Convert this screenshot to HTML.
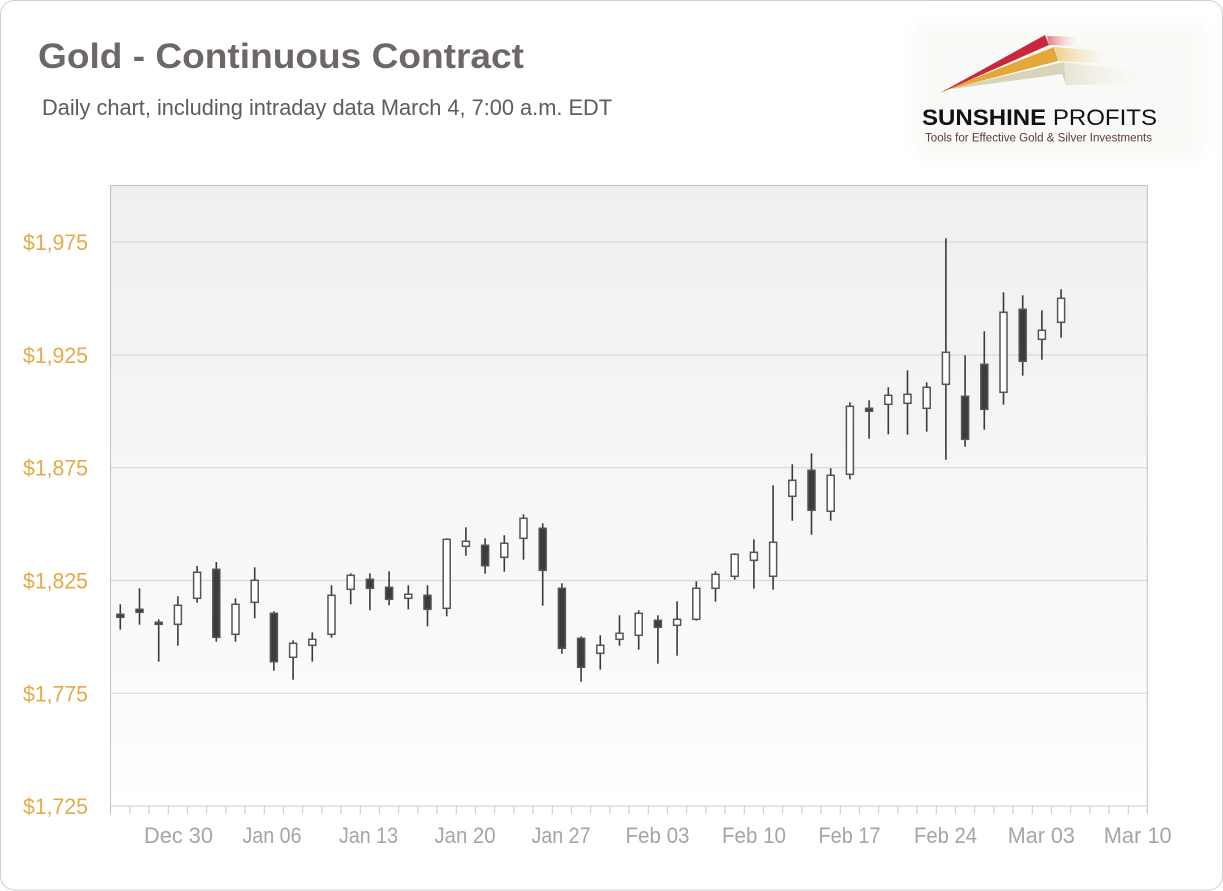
<!DOCTYPE html>
<html>
<head>
<meta charset="utf-8">
<style>
html,body{margin:0;padding:0;background:#fff;}
svg{display:block;}
text{font-family:"Liberation Sans",Arial,sans-serif;}
</style>
</head>
<body>
<svg width="1223" height="891" viewBox="0 0 1223 891" xmlns="http://www.w3.org/2000/svg">
<defs>
<linearGradient id="bg" x1="0" y1="0" x2="0" y2="1">
<stop offset="0" stop-color="#efefef"/>
<stop offset="0.88" stop-color="#fcfcfc"/>
<stop offset="1" stop-color="#ffffff"/>
</linearGradient>
<filter id="blur" x="-20%" y="-20%" width="140%" height="140%"><feGaussianBlur stdDeviation="8"/></filter>
<linearGradient id="redT" x1="0" y1="0" x2="1" y2="0"><stop offset="0" stop-color="#e07a80"/><stop offset="1" stop-color="#f4d6d6" stop-opacity="0"/></linearGradient>
<linearGradient id="goldT" x1="0" y1="0" x2="1" y2="0"><stop offset="0" stop-color="#f0cf8e"/><stop offset="1" stop-color="#f8eccf" stop-opacity="0"/></linearGradient>
<linearGradient id="beigeT" x1="0" y1="0" x2="1" y2="0"><stop offset="0" stop-color="#e8e4d2"/><stop offset="1" stop-color="#f2f0e6" stop-opacity="0"/></linearGradient>
</defs>

<rect x="0.5" y="0.5" width="1222" height="889.5" rx="14" ry="14" fill="#fff" stroke="#cfcfcf" stroke-width="1"/>

<text x="38" y="68" font-size="35" font-weight="bold" fill="#6d6866" textLength="486" lengthAdjust="spacingAndGlyphs">Gold - Continuous Contract</text>
<text x="42" y="115" font-size="22" fill="#5f5b5a" textLength="570" lengthAdjust="spacingAndGlyphs">Daily chart, including intraday data March 4, 7:00 a.m. EDT</text>

<rect x="916" y="22" width="288" height="136" fill="#f9f9f7" filter="url(#blur)"/>
<polygon points="1047,36 1078,37 1078,46 1049,45" fill="url(#redT)"/>
<polygon points="1055,47 1110,52 1110,64 1058,61" fill="url(#goldT)"/>
<polygon points="1064,62 1142,72 1142,84 1066,85" fill="url(#beigeT)"/>
<polygon points="944,90 1064,62 1066,85 1062,74" fill="#d9d3b9"/>
<polygon points="942,91 1054,47 1058,61" fill="#e3a73a"/>
<polygon points="940,93 1045,35 1049,45" fill="#c8283a"/>
<text x="922" y="125" font-size="22" fill="#111" textLength="235" lengthAdjust="spacingAndGlyphs"><tspan font-weight="bold">SUNSHINE</tspan> PROFITS</text>
<text x="925" y="141.5" font-size="11.5" fill="#5a3c30" textLength="227" lengthAdjust="spacingAndGlyphs">Tools for Effective Gold &amp; Silver Investments</text>

<rect x="110.5" y="185.5" width="1036.5" height="620.5" fill="url(#bg)"/>
<g stroke="#d9d9d9" stroke-width="1.2">
<line x1="111" y1="242" x2="1147" y2="242"/>
<line x1="111" y1="355" x2="1147" y2="355"/>
<line x1="111" y1="467.7" x2="1147" y2="467.7"/>
<line x1="111" y1="580.5" x2="1147" y2="580.5"/>
<line x1="111" y1="693.3" x2="1147" y2="693.3"/>
</g>
<g stroke="#c0c0c0" stroke-width="1" fill="none">
<line x1="110.5" y1="185.5" x2="1147.3" y2="185.5"/>
<line x1="110.5" y1="185.5" x2="110.5" y2="814"/>
<line x1="1147.3" y1="185.5" x2="1147.3" y2="814"/>
<line x1="110.5" y1="806" x2="1147.3" y2="806" stroke="#cccccc"/>
</g>
<g stroke="#cccccc" stroke-width="1">
<line x1="129.9" y1="806" x2="129.9" y2="814"/><line x1="149.1" y1="806" x2="149.1" y2="814"/><line x1="168.3" y1="806" x2="168.3" y2="814"/><line x1="187.5" y1="806" x2="187.5" y2="814"/><line x1="206.7" y1="806" x2="206.7" y2="814"/><line x1="225.9" y1="806" x2="225.9" y2="814"/><line x1="245.1" y1="806" x2="245.1" y2="814"/><line x1="264.3" y1="806" x2="264.3" y2="814"/><line x1="283.5" y1="806" x2="283.5" y2="814"/><line x1="302.7" y1="806" x2="302.7" y2="814"/><line x1="321.9" y1="806" x2="321.9" y2="814"/><line x1="341.1" y1="806" x2="341.1" y2="814"/><line x1="360.3" y1="806" x2="360.3" y2="814"/><line x1="379.5" y1="806" x2="379.5" y2="814"/><line x1="398.7" y1="806" x2="398.7" y2="814"/><line x1="417.9" y1="806" x2="417.9" y2="814"/><line x1="437.1" y1="806" x2="437.1" y2="814"/><line x1="456.3" y1="806" x2="456.3" y2="814"/><line x1="475.5" y1="806" x2="475.5" y2="814"/><line x1="494.7" y1="806" x2="494.7" y2="814"/><line x1="513.9" y1="806" x2="513.9" y2="814"/><line x1="533.1" y1="806" x2="533.1" y2="814"/><line x1="552.3" y1="806" x2="552.3" y2="814"/><line x1="571.5" y1="806" x2="571.5" y2="814"/><line x1="590.7" y1="806" x2="590.7" y2="814"/><line x1="609.9" y1="806" x2="609.9" y2="814"/><line x1="629.1" y1="806" x2="629.1" y2="814"/><line x1="648.3" y1="806" x2="648.3" y2="814"/><line x1="667.5" y1="806" x2="667.5" y2="814"/><line x1="686.7" y1="806" x2="686.7" y2="814"/><line x1="705.9" y1="806" x2="705.9" y2="814"/><line x1="725.1" y1="806" x2="725.1" y2="814"/><line x1="744.3" y1="806" x2="744.3" y2="814"/><line x1="763.5" y1="806" x2="763.5" y2="814"/><line x1="782.7" y1="806" x2="782.7" y2="814"/><line x1="801.9" y1="806" x2="801.9" y2="814"/><line x1="821.1" y1="806" x2="821.1" y2="814"/><line x1="840.3" y1="806" x2="840.3" y2="814"/><line x1="859.5" y1="806" x2="859.5" y2="814"/><line x1="878.7" y1="806" x2="878.7" y2="814"/><line x1="897.9" y1="806" x2="897.9" y2="814"/><line x1="917.1" y1="806" x2="917.1" y2="814"/><line x1="936.3" y1="806" x2="936.3" y2="814"/><line x1="955.5" y1="806" x2="955.5" y2="814"/><line x1="974.7" y1="806" x2="974.7" y2="814"/><line x1="993.9" y1="806" x2="993.9" y2="814"/><line x1="1013.1" y1="806" x2="1013.1" y2="814"/><line x1="1032.3" y1="806" x2="1032.3" y2="814"/><line x1="1051.5" y1="806" x2="1051.5" y2="814"/><line x1="1070.7" y1="806" x2="1070.7" y2="814"/><line x1="1089.9" y1="806" x2="1089.9" y2="814"/><line x1="1109.1" y1="806" x2="1109.1" y2="814"/><line x1="1128.3" y1="806" x2="1128.3" y2="814"/>
</g>

<g font-size="22" fill="#e3aa45" text-anchor="end">
<text x="88" y="250" textLength="65" lengthAdjust="spacingAndGlyphs">$1,975</text>
<text x="88" y="363" textLength="65" lengthAdjust="spacingAndGlyphs">$1,925</text>
<text x="88" y="475.7" textLength="65" lengthAdjust="spacingAndGlyphs">$1,875</text>
<text x="88" y="588.5" textLength="65" lengthAdjust="spacingAndGlyphs">$1,825</text>
<text x="88" y="701.3" textLength="65" lengthAdjust="spacingAndGlyphs">$1,775</text>
<text x="88" y="814" textLength="65" lengthAdjust="spacingAndGlyphs">$1,725</text>
</g>

<g font-size="22" fill="#a6a4a9" text-anchor="middle">
<text x="178.5" y="843" textLength="69" lengthAdjust="spacingAndGlyphs">Dec 30</text>
<text x="272" y="843" textLength="59" lengthAdjust="spacingAndGlyphs">Jan 06</text>
<text x="368.5" y="843" textLength="59" lengthAdjust="spacingAndGlyphs">Jan 13</text>
<text x="465" y="843" textLength="61" lengthAdjust="spacingAndGlyphs">Jan 20</text>
<text x="561" y="843" textLength="59" lengthAdjust="spacingAndGlyphs">Jan 27</text>
<text x="657.5" y="843" textLength="64" lengthAdjust="spacingAndGlyphs">Feb 03</text>
<text x="754" y="843" textLength="64" lengthAdjust="spacingAndGlyphs">Feb 10</text>
<text x="849.5" y="843" textLength="62" lengthAdjust="spacingAndGlyphs">Feb 17</text>
<text x="945.5" y="843" textLength="63" lengthAdjust="spacingAndGlyphs">Feb 24</text>
<text x="1041.3" y="843" textLength="67" lengthAdjust="spacingAndGlyphs">Mar 03</text>
<text x="1137.7" y="843" textLength="68" lengthAdjust="spacingAndGlyphs">Mar 10</text>
</g>

<g stroke="#3a3a3a" stroke-width="1.6">
<line x1="120.3" y1="604.3" x2="120.3" y2="629.7"/>
<line x1="139.5" y1="588.3" x2="139.5" y2="624.7"/>
<line x1="158.7" y1="619.3" x2="158.7" y2="661.7"/>
<line x1="177.9" y1="596.3" x2="177.9" y2="645.7"/>
<line x1="197.1" y1="566" x2="197.1" y2="602.7"/>
<line x1="216.3" y1="562" x2="216.3" y2="641.7"/>
<line x1="235.5" y1="598.3" x2="235.5" y2="641.7"/>
<line x1="254.7" y1="567.3" x2="254.7" y2="618.3"/>
<line x1="273.9" y1="611.3" x2="273.9" y2="670.7"/>
<line x1="293.1" y1="640.3" x2="293.1" y2="679.7"/>
<line x1="312.3" y1="632.3" x2="312.3" y2="661.7"/>
<line x1="331.5" y1="585.3" x2="331.5" y2="637.7"/>
<line x1="350.7" y1="573.3" x2="350.7" y2="604.3"/>
<line x1="369.9" y1="573.3" x2="369.9" y2="610.3"/>
<line x1="389.1" y1="571.3" x2="389.1" y2="605.3"/>
<line x1="408.3" y1="585.3" x2="408.3" y2="609.3"/>
<line x1="427.5" y1="585.3" x2="427.5" y2="626.3"/>
<line x1="446.7" y1="538.3" x2="446.7" y2="616.3"/>
<line x1="465.9" y1="527.3" x2="465.9" y2="555.7"/>
<line x1="485.1" y1="538.3" x2="485.1" y2="573.7"/>
<line x1="504.3" y1="535.3" x2="504.3" y2="571.7"/>
<line x1="523.5" y1="514.3" x2="523.5" y2="559.7"/>
<line x1="542.7" y1="523.3" x2="542.7" y2="605.7"/>
<line x1="561.9" y1="583.3" x2="561.9" y2="653.7"/>
<line x1="581.1" y1="636.3" x2="581.1" y2="681.7"/>
<line x1="600.3" y1="635.3" x2="600.3" y2="669.7"/>
<line x1="619.5" y1="615.3" x2="619.5" y2="645.7"/>
<line x1="638.7" y1="610.3" x2="638.7" y2="649.7"/>
<line x1="657.9" y1="615.3" x2="657.9" y2="663.7"/>
<line x1="677.1" y1="601.3" x2="677.1" y2="655.7"/>
<line x1="696.3" y1="581.3" x2="696.3" y2="620.7"/>
<line x1="715.5" y1="571.3" x2="715.5" y2="601.7"/>
<line x1="734.7" y1="553.3" x2="734.7" y2="579.7"/>
<line x1="753.9" y1="539.3" x2="753.9" y2="588.7"/>
<line x1="773.1" y1="485.3" x2="773.1" y2="589.7"/>
<line x1="792.3" y1="464.3" x2="792.3" y2="520.7"/>
<line x1="811.5" y1="453.3" x2="811.5" y2="534.7"/>
<line x1="830.7" y1="468.3" x2="830.7" y2="520.7"/>
<line x1="849.9" y1="402.3" x2="849.9" y2="479.3"/>
<line x1="869.1" y1="400.3" x2="869.1" y2="438.7"/>
<line x1="888.3" y1="387.3" x2="888.3" y2="434.3"/>
<line x1="907.5" y1="370.3" x2="907.5" y2="434.7"/>
<line x1="926.7" y1="382.3" x2="926.7" y2="431.7"/>
<line x1="945.9" y1="238.3" x2="945.9" y2="459.7"/>
<line x1="965.1" y1="355.3" x2="965.1" y2="446.7"/>
<line x1="984.3" y1="331.3" x2="984.3" y2="429.7"/>
<line x1="1003.5" y1="292.3" x2="1003.5" y2="404.7"/>
<line x1="1022.7" y1="295.3" x2="1022.7" y2="375.7"/>
<line x1="1041.9" y1="310.3" x2="1041.9" y2="359.7"/>
<line x1="1061.1" y1="289.3" x2="1061.1" y2="337.7"/>
</g>

<g stroke="#555555" stroke-width="1.5">
<rect x="116.8" y="614.3" width="7" height="3" fill="#3c3c3c"/>
<rect x="136" y="609.3" width="7" height="3" fill="#3c3c3c"/>
<rect x="155.2" y="622.3" width="7" height="2" fill="#3c3c3c"/>
<rect x="174.4" y="605.3" width="7" height="19" fill="#ffffff"/>
<rect x="193.6" y="572.3" width="7" height="26" fill="#ffffff"/>
<rect x="212.8" y="569.3" width="7" height="68" fill="#3c3c3c"/>
<rect x="232" y="604.3" width="7" height="30" fill="#ffffff"/>
<rect x="251.2" y="580.3" width="7" height="22" fill="#ffffff"/>
<rect x="270.4" y="613.3" width="7" height="48.4" fill="#3c3c3c"/>
<rect x="289.6" y="643.3" width="7" height="14" fill="#ffffff"/>
<rect x="308.8" y="639.3" width="7" height="6" fill="#ffffff"/>
<rect x="328" y="595.3" width="7" height="39" fill="#ffffff"/>
<rect x="347.2" y="575.3" width="7" height="14" fill="#ffffff"/>
<rect x="366.4" y="579.3" width="7" height="9" fill="#3c3c3c"/>
<rect x="385.6" y="587.3" width="7" height="12" fill="#3c3c3c"/>
<rect x="404.8" y="594.3" width="7" height="4" fill="#ffffff"/>
<rect x="424" y="595.3" width="7" height="14" fill="#3c3c3c"/>
<rect x="443.2" y="539.3" width="7" height="69" fill="#ffffff"/>
<rect x="462.4" y="541.3" width="7" height="5" fill="#ffffff"/>
<rect x="481.6" y="545.3" width="7" height="20.4" fill="#3c3c3c"/>
<rect x="500.8" y="543.3" width="7" height="14" fill="#ffffff"/>
<rect x="520" y="518.3" width="7" height="20" fill="#ffffff"/>
<rect x="539.2" y="528.3" width="7" height="42" fill="#3c3c3c"/>
<rect x="558.4" y="588.3" width="7" height="60" fill="#3c3c3c"/>
<rect x="577.6" y="638.3" width="7" height="29" fill="#3c3c3c"/>
<rect x="596.8" y="645.3" width="7" height="8" fill="#ffffff"/>
<rect x="616" y="633.3" width="7" height="6" fill="#ffffff"/>
<rect x="635.2" y="613.3" width="7" height="22" fill="#ffffff"/>
<rect x="654.4" y="620.3" width="7" height="7" fill="#3c3c3c"/>
<rect x="673.6" y="619.3" width="7" height="6" fill="#ffffff"/>
<rect x="692.8" y="588.3" width="7" height="31" fill="#ffffff"/>
<rect x="712" y="574.3" width="7" height="14" fill="#ffffff"/>
<rect x="731.2" y="554.3" width="7" height="22" fill="#ffffff"/>
<rect x="750.4" y="552.3" width="7" height="8" fill="#ffffff"/>
<rect x="769.6" y="542.3" width="7" height="34" fill="#ffffff"/>
<rect x="788.8" y="480.3" width="7" height="16" fill="#ffffff"/>
<rect x="808" y="470.3" width="7" height="40" fill="#3c3c3c"/>
<rect x="827.2" y="475.3" width="7" height="36" fill="#ffffff"/>
<rect x="846.4" y="406.3" width="7" height="68" fill="#ffffff"/>
<rect x="865.6" y="408.3" width="7" height="3" fill="#3c3c3c"/>
<rect x="884.8" y="395.3" width="7" height="9" fill="#ffffff"/>
<rect x="904" y="394.3" width="7" height="9" fill="#ffffff"/>
<rect x="923.2" y="387.3" width="7" height="21" fill="#ffffff"/>
<rect x="942.4" y="352.3" width="7" height="32" fill="#ffffff"/>
<rect x="961.6" y="396.3" width="7" height="43" fill="#3c3c3c"/>
<rect x="980.8" y="364.3" width="7" height="45" fill="#3c3c3c"/>
<rect x="1000" y="312.3" width="7" height="80" fill="#ffffff"/>
<rect x="1019.2" y="309.3" width="7" height="52" fill="#3c3c3c"/>
<rect x="1038.4" y="330.3" width="7" height="9" fill="#ffffff"/>
<rect x="1057.6" y="298.3" width="7" height="24" fill="#ffffff"/>
</g>
</svg>
</body>
</html>
